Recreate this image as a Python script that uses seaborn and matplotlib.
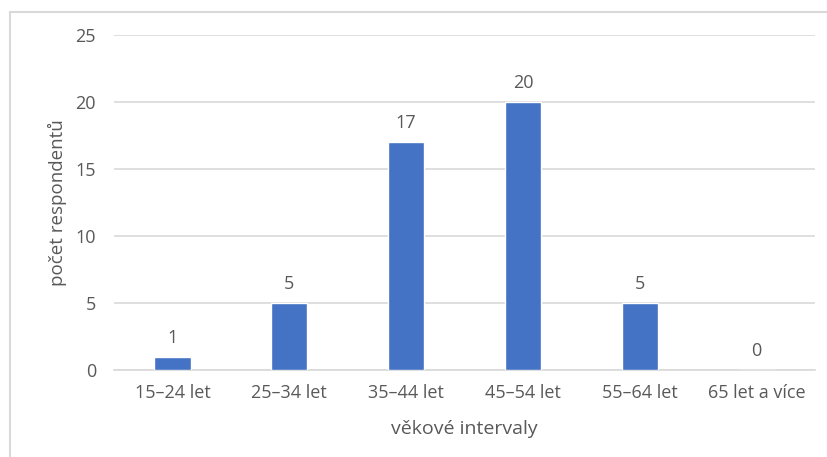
import matplotlib
matplotlib.use("Agg")
import matplotlib.pyplot as plt
import seaborn as sns
import pandas as pd
from matplotlib.patches import Rectangle

categories = ["15–24 let", "25–34 let", "35–44 let", "45–54 let", "55–64 let", "65 let a více"]
counts = [1, 5, 17, 20, 5, 0]
y_ticks = [0, 5, 10, 15, 20, 25]

sns.set_theme(style="white")
plt.rcParams["font.family"] = ["Open Sans", "DejaVu Sans"]

text_color = "#595959"
grid_color = "#D9D9D9"
bar_color = "#4472C4"

df = pd.DataFrame({"interval": categories, "pocet": counts})

fig = plt.figure(figsize=(8.27, 4.57), dpi=100)
ax = fig.add_axes([114 / 827, 1 - 370 / 457, (815 - 114) / 827, (370 - 35) / 457])

# chart frame (left and top edges visible)
fig.patches.append(Rectangle((10 / 827, -0.1), 1.2, 1 - 12 / 457 + 0.1,
                             transform=fig.transFigure, fill=False,
                             edgecolor="#D9D9D9", linewidth=1.5, zorder=0))

sns.barplot(data=df, x="interval", y="pocet", color=bar_color, width=0.31,
            saturation=1, ax=ax, zorder=3)

ax.set_ylim(0, 25)
ax.set_yticks(y_ticks)
ax.set_xlim(-0.5, len(categories) - 0.5)
ax.yaxis.grid(True, color=grid_color, linewidth=1.2)
ax.set_axisbelow(True)
for s in ["top", "right", "left"]:
    ax.spines[s].set_visible(False)
ax.spines["bottom"].set_color(grid_color)
ax.spines["bottom"].set_linewidth(1.2)

ax.tick_params(axis="both", length=0, labelsize=13, colors=text_color)
ax.tick_params(axis="x", pad=10)
ax.tick_params(axis="y", pad=13)

ax.set_xlabel("věkové intervaly", fontsize=14, color=text_color, labelpad=13)
ax.set_ylabel("počet respondentů", fontsize=13.5, color=text_color, labelpad=6)

for i, v in enumerate(counts):
    ax.annotate(str(v), (i, v), xytext=(0, 10), textcoords="offset points",
                ha="center", va="baseline", fontsize=13, color=text_color)

fig.savefig("out.png", dpi=100, facecolor="white")
